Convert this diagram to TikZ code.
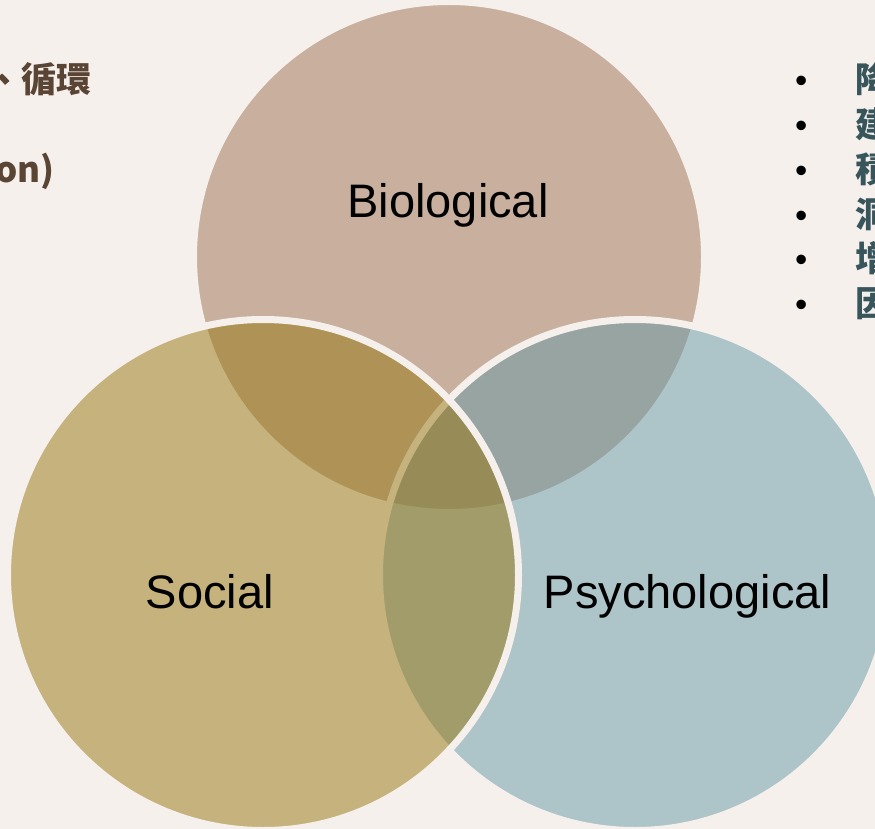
\documentclass[tikz,border=0pt]{standalone}
\usepackage{fontspec}
\setmainfont{Liberation Sans}
\newfontfamily\cjk{Noto Sans CJK TC}
\newfontfamily\bulfont{Liberation Sans}
\definecolor{bg}{RGB}{245,240,236}
\definecolor{biocol}{RGB}{157,112,82}
\definecolor{psycol}{RGB}{103,154,166}
\definecolor{soccol}{RGB}{151,118,14}
\definecolor{brownt}{RGB}{90,69,53}
\definecolor{tealt}{RGB}{55,85,90}
\newcommand{\bul}{\makebox[60pt][l]{\color{black}\bulfont\mdseries •}}
\begin{document}
\begin{tikzpicture}[x=1pt,y=-1pt,
  venn/.style={circle, minimum size=511pt, inner sep=0pt, fill opacity=0.5, draw=bg, draw opacity=1, line width=7pt},
  lbl/.style={font=\fontsize{47}{56}\selectfont, text=black, inner sep=0pt, anchor=base},
  side/.style={font=\cjk\bfseries\fontsize{35}{42}\selectfont, inner sep=0pt}]
\useasboundingbox (0,0) rectangle (875,829);
\clip (0,0) rectangle (875,829);
\fill[bg] (0,0) rectangle (875,829);
\node[venn, fill=biocol] (bio) at (449,257) {};
\node[venn, fill=psycol] (psy) at (635,575) {};
\node[venn, fill=soccol] (soc) at (263,575) {};
\node[lbl] (biolbl) at (448,218) {Biological};
\node[lbl] (soclbl) at (210,608) {Social};
\node[lbl] (psylbl) at (687.5,608) {Psychological};
\node[side, text=brownt, anchor=base east] (lt1) at (92,92.3) {、循環};
\node[side, text=brownt, anchor=base east] (lt2) at (55,182.1) {(Interaction)};
\node[side, text=tealt, anchor=base west] (rt1) at (795,92.3) {\bul 降低};
\node[side, text=tealt, anchor=base west] (rt2) at (795,137.2) {\bul 建立};
\node[side, text=tealt, anchor=base west] (rt3) at (795,182.1) {\bul 積極};
\node[side, text=tealt, anchor=base west] (rt4) at (795,227.0) {\bul 洞察};
\node[side, text=tealt, anchor=base west] (rt5) at (795,271.9) {\bul 增加};
\node[side, text=tealt, anchor=base west] (rt6) at (795,316.8) {\bul 因應};
\end{tikzpicture}
\end{document}
